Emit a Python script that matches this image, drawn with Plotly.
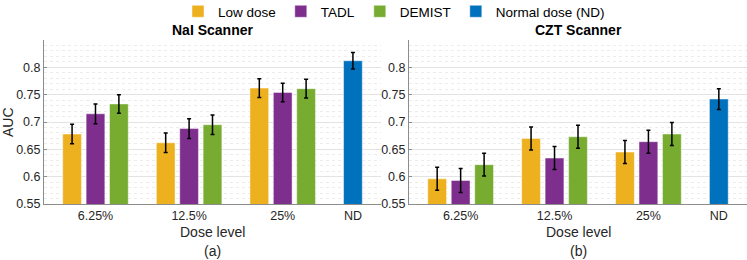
import plotly.graph_objects as go
from plotly.subplots import make_subplots

# ---------------- data ----------------
dose_levels = ["6.25%", "12.5%", "25%"]
nd_label = "ND"
series_names = ["Low dose", "TADL", "DEMIST"]
nd_name = "Normal dose (ND)"

nai_low = [0.678, 0.662, 0.762]
nai_low_err = [0.018, 0.018, 0.017]
nai_tadl = [0.715, 0.688, 0.754]
nai_tadl_err = [0.018, 0.018, 0.017]
nai_demist = [0.733, 0.695, 0.761]
nai_demist_err = [0.017, 0.018, 0.017]
nai_nd = [0.812]
nai_nd_err = [0.015]

czt_low = [0.596, 0.670, 0.645]
czt_low_err = [0.021, 0.021, 0.021]
czt_tadl = [0.593, 0.634, 0.664]
czt_tadl_err = [0.022, 0.021, 0.021]
czt_demist = [0.622, 0.673, 0.678]
czt_demist_err = [0.021, 0.021, 0.021]
czt_nd = [0.742]
czt_nd_err = [0.019]

panel_titles = ["NaI Scanner", "CZT Scanner"]
panel_tags = ["(a)", "(b)"]
y_ticks = [0.55, 0.6, 0.65, 0.7, 0.75, 0.8]

colors = ["#EDB120", "#7E2F8E", "#77AC30"]
nd_color = "#0072BD"

# ---------------- layout geometry ----------------
W, H = 747, 260
FONT = "Liberation Sans, Arial, Helvetica, sans-serif"
group_pos = [1, 2, 3]
nd_pos = 3.75
offsets = [-0.25, 0.0, 0.25]
bar_w = 0.2

fig = make_subplots(rows=1, cols=2, horizontal_spacing=0.0)

panels = [
    ([nai_low, nai_tadl, nai_demist], [nai_low_err, nai_tadl_err, nai_demist_err], nai_nd, nai_nd_err),
    ([czt_low, czt_tadl, czt_demist], [czt_low_err, czt_tadl_err, czt_demist_err], czt_nd, czt_nd_err),
]

for p, (vals, errs, ndv, nde) in enumerate(panels):
    col = p + 1
    for i, name in enumerate(series_names):
        fig.add_trace(go.Bar(
            x=[g + offsets[i] for g in group_pos], y=vals[i], width=bar_w,
            name=name, legendgroup=name, showlegend=(p == 0),
            marker=dict(color=colors[i], line=dict(color="rgba(255,255,255,0.45)", width=1)),
            error_y=dict(type="data", array=errs[i], color="black", thickness=1.5, width=2),
        ), row=1, col=col)
    fig.add_trace(go.Bar(
        x=[nd_pos], y=ndv, width=bar_w,
        name=nd_name, legendgroup=nd_name, showlegend=(p == 0),
        marker=dict(color=nd_color, line=dict(color="rgba(255,255,255,0.45)", width=1)),
        error_y=dict(type="data", array=nde, color="black", thickness=1.5, width=2),
    ), row=1, col=col)

x_domains = [[44 / W, 381 / W], [409 / W, 1.0]]
y_domain = [1 - 204 / H, 1 - 40 / H]

for p in range(2):
    xa = "xaxis" if p == 0 else "xaxis2"
    ya = "yaxis" if p == 0 else "yaxis2"
    fig.layout[xa].update(
        domain=x_domains[p], range=[0.45, 4.05],
        tickmode="array", tickvals=group_pos + [nd_pos], ticktext=dose_levels + [nd_label],
        showline=True, linecolor="#8c8c8c", linewidth=1, ticks="",
        showgrid=False, zeroline=False,
        tickfont=dict(family=FONT, size=12.5, color="#262626"),
    )
    fig.layout[ya].update(
        domain=y_domain, range=[0.55, 0.85],
        tickmode="array", tickvals=y_ticks, ticktext=[f"{v:g}" for v in y_ticks],
        showline=True, linecolor="#8c8c8c", linewidth=1,
        ticks="inside", ticklen=3, tickcolor="#8c8c8c",
        showgrid=True, gridcolor="#e3e3e3", gridwidth=1,
        minor=dict(dtick=0.01, tick0=0.55, showgrid=True, gridcolor="#ececec", griddash="dot", gridwidth=1, ticks=""),
        zeroline=False,
        tickfont=dict(family=FONT, size=12.5, color="#262626"),
    )

annotations = []
for p in range(2):
    xd = "x domain" if p == 0 else "x2 domain"
    annotations.append(dict(text=f"<b>{panel_titles[p]}</b>", xref=xd, yref="paper", x=0.5, y=1 - 30 / H,
                            xanchor="center", yanchor="middle", showarrow=False,
                            font=dict(family=FONT, size=14, color="#000000")))
    annotations.append(dict(text="Dose level", xref=xd, yref="paper", x=0.5, y=1 - 232 / H,
                            xanchor="center", yanchor="middle", showarrow=False,
                            font=dict(family=FONT, size=14, color="#262626")))
    annotations.append(dict(text=panel_tags[p], xref=xd, yref="paper", x=0.5, y=1 - 251 / H,
                            xanchor="center", yanchor="middle", showarrow=False,
                            font=dict(family=FONT, size=14, color="#262626")))
annotations.append(dict(text="AUC", xref="paper", yref="paper", x=8 / W, y=1 - 122 / H, textangle=-90,
                        xanchor="center", yanchor="middle", showarrow=False,
                        font=dict(family=FONT, size=14, color="#262626")))

fig.update_layout(
    width=W, height=H,
    margin=dict(l=0, r=0, t=0, b=0, autoexpand=False),
    paper_bgcolor="white", plot_bgcolor="white",
    barmode="overlay",
    showlegend=True,
    legend=dict(orientation="h", x=394 / W, xanchor="center", y=1.0 + 4 / H, yanchor="top",
                font=dict(family=FONT, size=13.5, color="#000000"),
                itemwidth=30, tracegroupgap=0, bgcolor="rgba(0,0,0,0)",
                traceorder="normal"),
    annotations=annotations,
    font=dict(family=FONT),
)

fig.write_html("out.html", config={"displayModeBar": False},
               post_script="document.body.style.margin='0';")
